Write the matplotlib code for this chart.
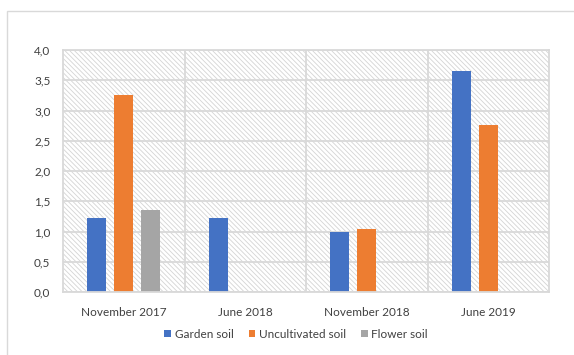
import numpy as np
import matplotlib
matplotlib.use('Agg')
import matplotlib.pyplot as plt
from matplotlib.patches import Rectangle

# 数据
dates = ['November 2017', 'June 2018', 'November 2018', 'June 2019']
garden = [1.22, 1.22, 1.00, 3.65]
uncultivated = [3.26, 0, 1.04, 2.76]
flower = [1.36, 0, 0, 0]
series_names = ['Garden soil', 'Uncultivated soil', 'Flower soil']
colors = ['#4472C4', '#ED7D31', '#A5A5A5']
yticks = np.arange(0, 4.01, 0.5)
ytick_labels = [f'{v:.1f}'.replace('.', ',') for v in yticks]

plt.rcParams['font.family'] = ['Lato', 'DejaVu Sans']
plt.rcParams['hatch.linewidth'] = 0.6
plt.rcParams['hatch.color'] = '#d4d4d4'

fig = plt.figure(figsize=(5.74, 3.55), dpi=100)
# 外框
fig.patches.append(Rectangle((7 / 574, -0.1), 1.2, (355 - 11) / 355 + 0.1,
                             transform=fig.transFigure, fill=False,
                             edgecolor='#d9d9d9', linewidth=1.0))

ax = fig.add_axes([63 / 574, 1 - 292 / 355, (549 - 63) / 574, (292 - 50) / 355])
ax.set_xlim(-0.5, 3.5)
ax.set_ylim(0, 4.0)

# 背景斜线
ax.add_patch(Rectangle((0, 0), 1, 1, transform=ax.transAxes, facecolor='white',
                       hatch='\\' * 7, edgecolor='#d4d4d4', linewidth=0, zorder=0))

# 网格
for y in yticks:
    ax.axhline(y, color='#d9d9d9', linewidth=1.3, zorder=1)
for x in [0.5, 1.5, 2.5]:
    ax.axvline(x, color='#d9d9d9', linewidth=1.3, zorder=1)
for s in ax.spines.values():
    s.set_color('#d9d9d9')
    s.set_linewidth(1.3)

x = np.arange(len(dates))
w = 0.157
off = 0.222
for i, (vals, name, c) in enumerate(zip([garden, uncultivated, flower], series_names, colors)):
    ax.bar(x + (i - 1) * off, vals, width=w, color=c, label=name, zorder=2)

ax.set_xticks(x)
ax.set_xticklabels(dates, fontsize=8.5, color='#404040')
ax.set_yticks(yticks)
ax.set_yticklabels(ytick_labels, fontsize=8.5, color='#404040')
ax.tick_params(length=0, pad=9)
ax.tick_params(axis='x', pad=11)

leg = fig.legend(loc='center', bbox_to_anchor=(0.516, 1 - 334 / 355), ncol=3, frameon=False,
                 fontsize=8.5, handlelength=0.55, handleheight=0.55, handletextpad=0.3,
                 columnspacing=1.3)
for t in leg.get_texts():
    t.set_color('#404040')

fig.savefig('out.png', dpi=100)
